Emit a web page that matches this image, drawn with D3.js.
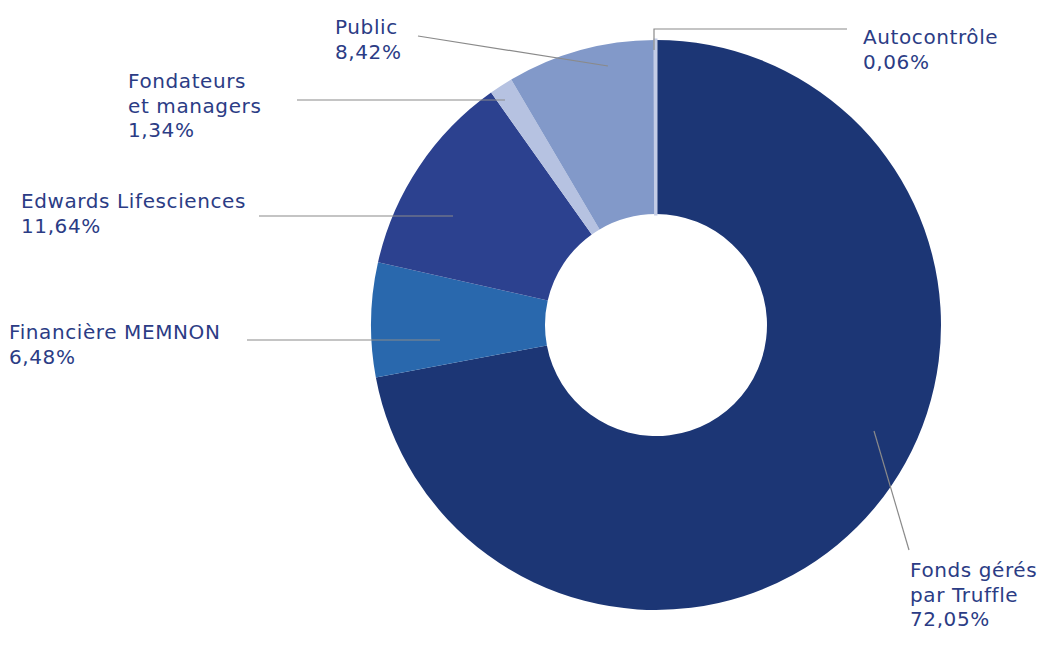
<!DOCTYPE html>
<html>
<head>
<meta charset="utf-8">
<script src="https://cdn.jsdelivr.net/npm/d3@7"></script>
<style>
  html, body { margin: 0; padding: 0; background: #ffffff; }
  svg { display: block; }
  text { font-family: "DejaVu Sans", sans-serif; }
</style>
</head>
<body>
<script>
// ---- data ----
const categories = ["Fonds gérés par Truffle", "Financière MEMNON", "Edwards Lifesciences", "Fondateurs et managers", "Public", "Autocontrôle"];
const values = [72.05, 6.48, 11.64, 1.34, 8.42, 0.06];
const labelLines = [["Fonds gérés", "par Truffle"], ["Financière MEMNON"], ["Edwards Lifesciences"], ["Fondateurs", "et managers"], ["Public"], ["Autocontrôle"]];
const colors = ["#1c3675", "#2968ad", "#2c418f", "#b6c2e1", "#8299c9", "#c3cce6"];

// ---- layout (annotation positions) ----
const W = 1049, H = 652;
const cx = 656, cy = 325, rOuter = 285, rInner = 111;
const labelLayout = [
  { x: 910, y: 577, line: [[874, 431], [909, 550]] },
  { x: 9,   y: 339, line: [[247, 340], [440, 340]] },
  { x: 21,  y: 208, line: [[259, 216], [453, 216]] },
  { x: 128, y: 88,  line: [[297, 100], [505, 100]] },
  { x: 335, y: 34,  line: [[418, 36], [608, 66]] },
  { x: 863, y: 44,  line: [[847, 29], [654, 29], [654, 50]] }
];
const lineHeight = 24.5;
const textColor = "#2b3c85";

const fmt = v => d3.format(".2f")(v).replace(".", ",") + "%";

const svg = d3.select("body").append("svg").attr("width", W).attr("height", H);

const pie = d3.pie().sort(null).value(d => d.value).startAngle(0).endAngle(2 * Math.PI);
const data = categories.map((c, i) => ({ name: c, value: values[i], i }));
const arcs = pie(data);
const arc = d3.arc().innerRadius(rInner).outerRadius(rOuter);

const g = svg.append("g").attr("transform", `translate(${cx},${cy})`);
g.selectAll("path.slice")
  .data(arcs)
  .join("path")
  .attr("class", "slice")
  .attr("d", arc)
  .attr("fill", d => colors[d.data.i])
  .attr("stroke", d => d.data.value < 0.5 ? colors[d.data.i] : "none")
  .attr("stroke-width", d => d.data.value < 0.5 ? 3 : 0);

// leader lines
svg.selectAll("path.leader")
  .data(labelLayout)
  .join("path")
  .attr("class", "leader")
  .attr("d", d => d3.line()(d.line))
  .attr("fill", "none")
  .attr("stroke", "#8a8a8a")
  .attr("stroke-width", 1.2);

// labels
const labels = svg.selectAll("text.lbl")
  .data(categories)
  .join("text")
  .attr("class", "lbl")
  .attr("x", (d, i) => labelLayout[i].x)
  .attr("y", (d, i) => labelLayout[i].y)
  .attr("fill", textColor)
  .attr("font-size", 20)
  .attr("letter-spacing", 0.6);

labels.each(function(d, i) {
  const t = d3.select(this);
  const lines = labelLines[i].concat([fmt(values[i])]);
  lines.forEach((ln, k) => {
    t.append("tspan")
      .attr("x", labelLayout[i].x)
      .attr("dy", k === 0 ? 0 : lineHeight)
      .text(ln);
  });
});
</script>
</body>
</html>
